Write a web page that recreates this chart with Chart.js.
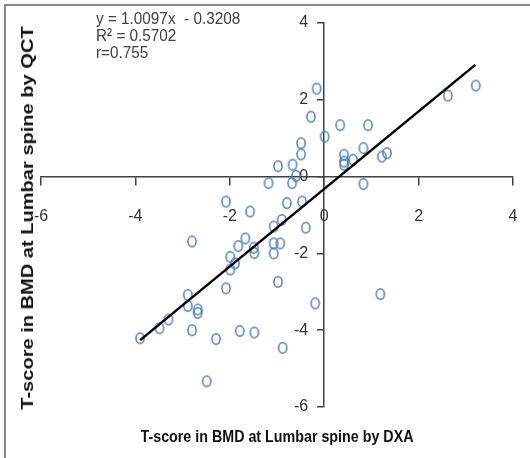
<!DOCTYPE html>
<html lang="en">
<head>
  <meta charset="UTF-8">
  <title>T-score DXA vs QCT</title>
  <script src="https://cdn.jsdelivr.net/npm/chart.js"></script>
  <style>
    html, body { margin: 0; padding: 0; background: #fff; }
    #wrap { position: relative; width: 530px; height: 458px; overflow: hidden; }
    #frame { position: absolute; left: 4px; top: 4px; width: 600px; height: 600px;
             border-top: 2px solid #8a8a8a; border-left: 2px solid #8a8a8a; }
    canvas { position: absolute; left: 0; top: 0; }
    .txt { position: absolute; white-space: nowrap; }
    #eq { left: 96px; top: 10px; font: 17px "Liberation Sans", Arial, sans-serif;
          line-height: 17px; color: #404040; transform: scaleX(0.9); transform-origin: left top; }
    #xtitle { left: 277px; top: 437px; transform: translate(-50%, -50%) scaleX(0.84);
              font: bold 17px "Liberation Sans", Arial, sans-serif; color: #111; }
    #ytitle { left: 28px; top: 218px; transform: translate(-50%, -50%) rotate(-90deg) scaleX(1.18);
              font: bold 17px "Liberation Sans", Arial, sans-serif; color: #111; }
  </style>
</head>
<body>
<div id="wrap">
  <div id="frame"></div>
  <canvas id="myChart" width="530" height="458"></canvas>
  <div id="eq" class="txt">y = 1.0097x&nbsp; - 0.3208<br>R² = 0.5702<br>r=0.755</div>
  <div id="xtitle" class="txt">T-score in BMD at Lumbar spine by DXA</div>
  <div id="ytitle" class="txt">T-score in BMD at Lumbar spine by QCT</div>
</div>

<script>
  // T-score at lumbar spine, DXA (x) vs QCT (y)
  const dxa = [-3.90, -3.49, -3.30, -2.89, -2.89, -2.68, -2.68, -2.80, -2.29, -1.79,
               -1.48, -0.88, -2.49, -0.19, 1.19, -2.08, -0.98, -2.80, -1.67, -1.82,
               -1.99, -1.89, -1.99, -1.49, -1.48, -1.07, -0.93, -1.07, -1.07, -0.90,
               -0.39, -0.79, -0.47, -2.08, -1.57, -1.18, -0.68, -0.60, -0.98, -0.67,
               -0.49, -0.49, -0.28, -0.16, 0.01, 0.34, 0.93, 0.83, 0.42, 0.42,
               0.42, 0.61, 1.22, 1.33, 0.83, 2.62, 3.21];
  const qct = [-4.21, -3.95, -3.72, -3.37, -3.08, -3.46, -3.55, -4.00, -4.23, -4.02,
               -4.06, -4.46, -5.33, -3.30, -3.06, -2.91, -2.74, -1.69, -1.61, -1.81,
               -2.09, -2.26, -2.42, -1.85, -1.99, -1.74, -1.74, -2.00, -1.30, -1.13,
               -1.33, -0.69, -0.65, -0.65, -0.91, -0.17, -0.17, 0.02, 0.27, 0.31,
               0.58, 0.87, 1.56, 2.29, 1.04, 1.34, 1.34, 0.74, 0.57, 0.39,
               0.31, 0.44, 0.52, 0.61, -0.19, 2.11, 2.37];

  const slope = 1.0097;
  const intercept = -0.3208;
  const trendX = [-3.9, 3.2];
  const ticksX = [-6, -4, -2, 0, 2, 4];
  const ticksY = [-6, -4, -2, 0, 2, 4];

  // hollow ellipse marker (the source image is a bit stretched vertically)
  const marker = document.createElement('canvas');
  marker.width = 12; marker.height = 14;
  const mc = marker.getContext('2d');
  mc.strokeStyle = '#4a7ebb';
  mc.lineWidth = 1.5;
  mc.beginPath();
  mc.ellipse(6, 7, 4.1, 5.2, 0, 0, Math.PI * 2);
  mc.stroke();

  const points = dxa.map((x, i) => ({ x: x, y: qct[i] }));
  const trend = trendX.map(x => ({ x: x, y: slope * x + intercept }));

  const tickFont = { family: '"Liberation Sans", Arial, sans-serif', size: 16 };
  // center-positioned scales reserve room for their labels; keep the plot area fixed instead
  const noPad = s => { s.paddingLeft = 0; s.paddingRight = 0; s.paddingTop = 0; s.paddingBottom = 0; };

  new Chart(document.getElementById('myChart'), {
    type: 'scatter',
    data: {
      datasets: [
        {
          data: points,
          pointStyle: marker,
          pointRadius: 5,
          pointHoverRadius: 5,
          order: 2
        },
        {
          type: 'line',
          data: trend,
          borderColor: '#000',
          borderWidth: 2.5,
          pointRadius: 0,
          fill: false,
          order: 1
        }
      ]
    },
    options: {
      responsive: false,
      animation: false,
      layout: { autoPadding: false, padding: { left: 41, right: 17, top: 23, bottom: 51 } },
      plugins: { legend: { display: false }, tooltip: { enabled: false } },
      scales: {
        x: {
          type: 'linear',
          position: { y: 0 },
          min: -6, max: 4,
          afterBuildTicks: s => { s.ticks = ticksX.map(v => ({ value: v })); },
          afterFit: noPad,
          grid: { drawOnChartArea: false, drawTicks: true, tickLength: 8, color: '#404040', lineWidth: 1.5 },
          border: { color: '#404040', width: 1.5 },
          ticks: { color: '#333', font: tickFont, padding: 22, maxRotation: 0 }
        },
        y: {
          type: 'linear',
          position: { x: 0 },
          min: -6, max: 4,
          afterBuildTicks: s => { s.ticks = ticksY.map(v => ({ value: v })); },
          afterFit: noPad,
          grid: { drawOnChartArea: false, drawTicks: true, tickLength: 6, color: '#404040', lineWidth: 1.5 },
          border: { color: '#404040', width: 1.5 },
          // labels of a center y axis are right-aligned on the axis line, so pad them with en spaces
          ticks: { color: '#333', font: tickFont, callback: v => v + '\u2002\u2002' }
        }
      }
    }
  });
</script>
</body>
</html>
